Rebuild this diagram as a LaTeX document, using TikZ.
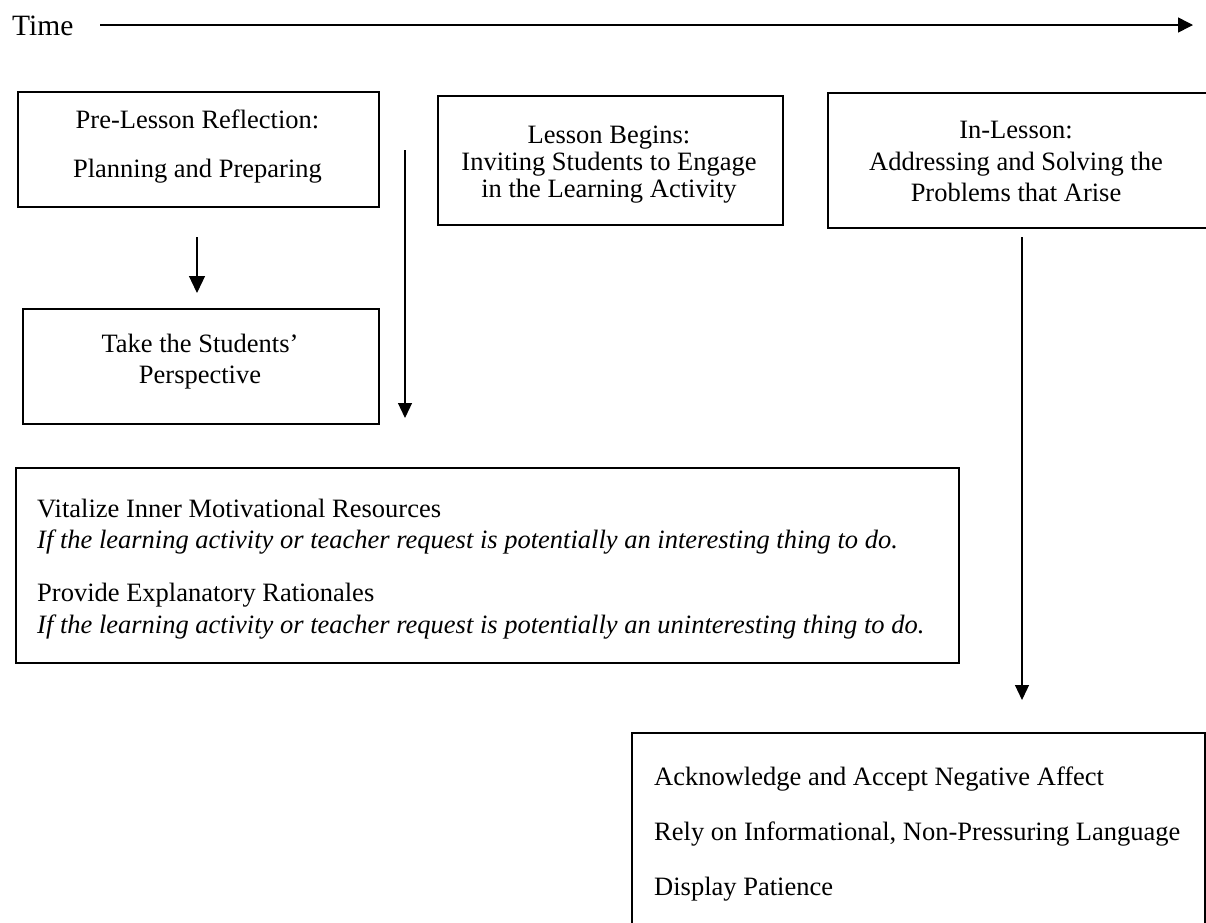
\documentclass[tikz,border=0pt]{standalone}
\usepackage{fontspec}
\setmainfont{Liberation Serif}
\usetikzlibrary{arrows.meta}
\begin{document}
\begin{tikzpicture}[x=1pt,y=-1pt,
  box/.style={draw,line width=2pt,rectangle,inner sep=0pt,anchor=north west},
  txt/.style={inner sep=0pt,anchor=base,font=\fontsize{26.5}{30}\selectfont},
  ltxt/.style={txt,anchor=base west},
  itxt/.style={ltxt,font=\fontsize{26.5}{30}\selectfont\itshape},
  arr/.style={line width=1.2pt,-{Triangle[length=15pt,width=14pt]}}]
\clip (0,0) rectangle (1206,922);
\fill[white] (0,0) rectangle (1206,922);
% time axis
\node[ltxt,font=\fontsize{29.5}{32}\selectfont] (time) at (12,35) {Time};
\coordinate (t0) at (100,25);
\coordinate (t1) at (1193,25);
\draw[line width=1.5pt,-{Triangle[length=15pt,width=15pt]}] (t0) -- (t1);
% boxes
\node[box,minimum width=361pt,minimum height=115pt] (b1) at (17,91) {};
\node[box,minimum width=356pt,minimum height=115pt] (b2) at (22,308) {};
\node[box,minimum width=345pt,minimum height=129pt] (b3) at (437,95) {};
\node[box,minimum width=400pt,minimum height=135pt] (b4) at (827,92) {};
\node[box,minimum width=943pt,minimum height=195pt] (b5) at (15,467) {};
\node[box,minimum width=573pt,minimum height=220pt] (b6) at (631,732) {};
% texts
\node[txt] (b1a) at (197.5,128) {Pre-Lesson Reflection:};
\node[txt] (b1b) at (197.5,177) {Planning and Preparing};
\node[txt] (b2a) at (200,352) {Take the Students’};
\node[txt] (b2b) at (200,383) {Perspective};
\node[txt] (b3a) at (609,143) {Lesson Begins:};
\node[txt] (b3b) at (609,170) {Inviting Students to Engage};
\node[txt] (b3c) at (609,197) {in the Learning Activity};
\node[txt] (b4a) at (1016,138) {In-Lesson:};
\node[txt] (b4b) at (1016,170) {Addressing and Solving the};
\node[txt] (b4c) at (1016,201) {Problems that Arise};
\node[ltxt] (b5a) at (37,517) {Vitalize Inner Motivational Resources};
\node[itxt] (b5b) at (37,548) {If the learning activity or teacher request is potentially an interesting thing to do.};
\node[ltxt] (b5c) at (37,601) {Provide Explanatory Rationales};
\node[itxt] (b5d) at (37,633) {If the learning activity or teacher request is potentially an uninteresting thing to do.};
\node[ltxt] (b6a) at (654,785) {Acknowledge and Accept Negative Affect};
\node[ltxt] (b6b) at (654,840) {Rely on Informational, Non-Pressuring Language};
\node[ltxt] (b6c) at (654,895) {Display Patience};
% arrows
\coordinate (a1s) at (197,237);
\coordinate (a1e) at (197,293);
\coordinate (a2s) at (405,150);
\coordinate (a2e) at (405,418);
\coordinate (a3s) at (1022,237);
\coordinate (a3e) at (1022,700);
\draw[line width=1.2pt,-{Triangle[length=17pt,width=16pt]}] (a1s) -- (a1e);
\draw[arr] (a2s) -- (a2e);
\draw[arr] (a3s) -- (a3e);
\end{tikzpicture}
\end{document}
